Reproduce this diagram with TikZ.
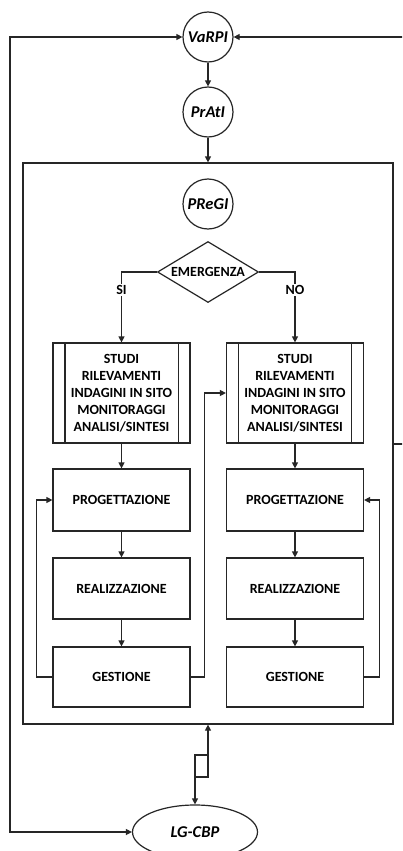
\documentclass[tikz,border=0pt]{standalone}
\usepackage{fontspec}
\setmainfont{Carlito}
\usetikzlibrary{arrows.meta,shapes.geometric,calc}
\tikzset{
  ln/.style={line width=1.2pt, draw=black!85},
  arr/.style={ln, -{Triangle[length=6pt,width=6pt]}},
  darr/.style={ln, {Triangle[length=6pt,width=6pt]}-{Triangle[length=6pt,width=6pt]}},
  circ/.style={circle, ln, minimum size=50pt, inner sep=0pt, font=\bfseries\itshape\fontsize{16.5}{18}\selectfont},
  box/.style={rectangle, ln, minimum width=137pt, inner sep=0pt, align=center, font=\bfseries\fontsize{14}{17}\selectfont},
  lbl/.style={fill=white, inner sep=1.5pt, font=\bfseries\fontsize{14}{17}\selectfont},
}
\begin{document}
\begin{tikzpicture}[x=1pt,y=-1pt]
\useasboundingbox (0,0) rectangle (402,851);
\clip (0,0) rectangle (402,851);
\fill[white] (0,0) rectangle (402,851);
% frame
\node[rectangle, ln, minimum width=370pt, minimum height=561pt, inner sep=0pt] (frame) at (208,443.5) {};
% circles
\node[circ] (varpi) at (208,37) {VaRPI};
\node[circ] (pratl) at (208,112) {PrAtI};
\node[circ] (pregi) at (208,204) {PReGI};
% decision
\node[diamond, ln, aspect=1.66, minimum width=101pt, minimum height=61pt, inner sep=0pt, font=\bfseries\fontsize{14}{17}\selectfont] (emer) at (208,272) {EMERGENZA};
% left column
\node[box, minimum height=100pt] (s1) at (121.5,393) {STUDI\\RILEVAMENTI\\INDAGINI IN SITO\\MONITORAGGI\\ANALISI/SINTESI};
\node[box, minimum height=62pt] (p1) at (121.5,500) {PROGETTAZIONE};
\node[box, minimum height=61pt] (r1) at (121.5,588.5) {REALIZZAZIONE};
\node[box, minimum height=60pt] (g1) at (121.5,677) {GESTIONE};
% right column
\node[box, minimum height=100pt] (s2) at (295,393) {STUDI\\RILEVAMENTI\\INDAGINI IN SITO\\MONITORAGGI\\ANALISI/SINTESI};
\node[box, minimum height=62pt] (p2) at (295,500) {PROGETTAZIONE};
\node[box, minimum height=61pt] (r2) at (295,588.5) {REALIZZAZIONE};
\node[box, minimum height=60pt] (g2) at (295,677) {GESTIONE};
% predefined-process inner lines
\foreach \n in {s1,s2}{
  \draw[ln] ([xshift=12.5pt]\n.north west) -- ([xshift=12.5pt]\n.south west);
  \draw[ln] ([xshift=-12.5pt]\n.north east) -- ([xshift=-12.5pt]\n.south east);
}
% ellipse
\node[ellipse, ln, minimum width=125pt, minimum height=54pt, inner sep=0pt, font=\bfseries\itshape\fontsize{16.5}{18}\selectfont] (lg) at (195,832) {LG-CBP};
% coordinates
\coordinate (L1) at (10,37);
\coordinate (L2) at (10,832);
\coordinate (R0) at (393,444);
\coordinate (R1) at (405,444);
\coordinate (R2) at (405,37);
\coordinate (B1) at (208,777);
\coordinate (B2) at (195,777);
\coordinate (B3) at (195,755);
\coordinate (B4) at (208,755);
% connectors
\draw[arr] (varpi) -- (pratl);
\draw[arr] (pratl) -- (frame.north);
\draw[darr] (varpi.west) -- (L1) -- (L2) -- (lg.west);
\draw[arr] (R0) -- (R1) -- (R2) -- (varpi.east);
\draw[arr] (emer.west) -| node[lbl, pos=0.63] {SI} (s1.north);
\draw[arr] (emer.east) -| node[lbl, pos=0.63] {NO} (s2.north);
\draw[arr] (s1) -- (p1);
\draw[arr] (p1) -- (r1);
\draw[arr] (r1) -- (g1);
\draw[arr] (s2) -- (p2);
\draw[arr] (p2) -- (r2);
\draw[arr] (r2) -- (g2);
\draw[arr] (g1.west) -- ++(-16,0) |- (p1.west);
\draw[arr] (g2.east) -- ++(15,0) |- (p2.east);
\draw[arr] (g1.east) -- ++(14,0) |- (s2.west);
\draw[darr] (frame.south) -- (B1) -- (B2) -- (lg.north);
\draw[ln] (B2) -- (B3) -- (B4);
\end{tikzpicture}
\end{document}
